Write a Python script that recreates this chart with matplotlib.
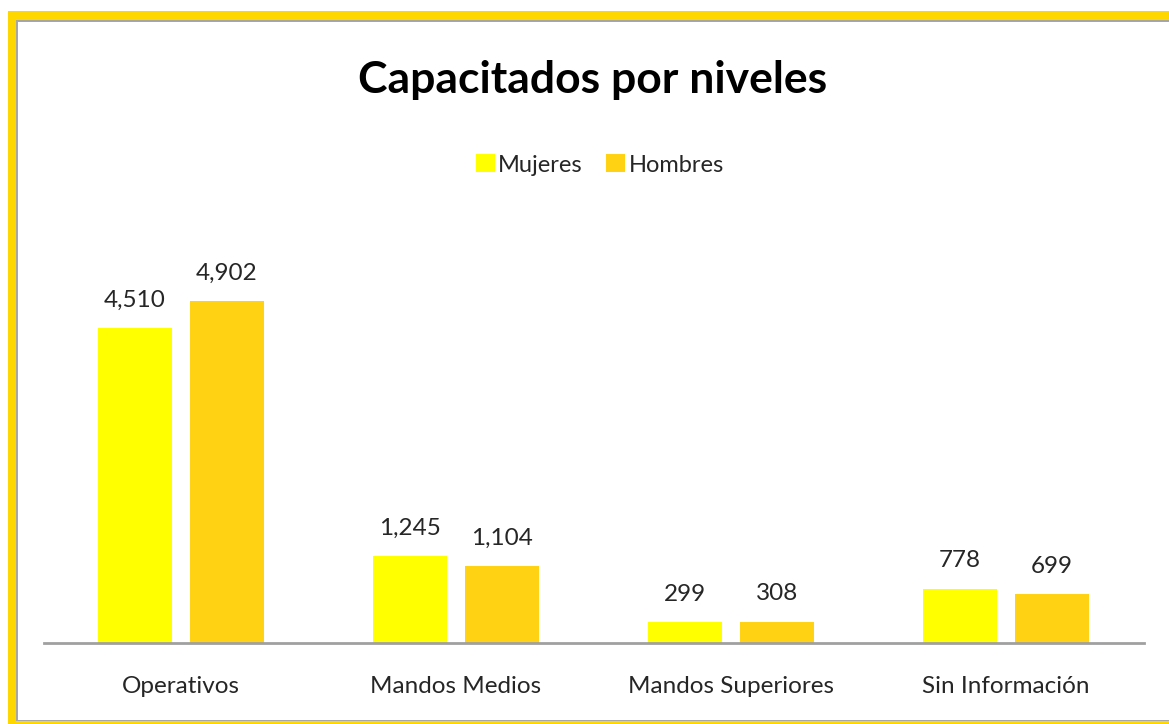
import matplotlib
matplotlib.use("Agg")
import matplotlib.pyplot as plt
from matplotlib.patches import Rectangle
import numpy as np

categories = ["Operativos", "Mandos Medios", "Mandos Superiores", "Sin Información"]
mujeres = [4510, 1245, 299, 778]
hombres = [4902, 1104, 308, 699]
series_names = ["Mujeres", "Hombres"]

W, H = 1169, 724
fig = plt.figure(figsize=(W / 100, H / 100), dpi=100)
plt.rcParams['font.family'] = ['Lato', 'DejaVu Sans']

def fx(px):
    return px / W

def fy(py):
    return 1 - py / H

# frame: yellow border with thin gray inner line
fig.patches.append(Rectangle((fx(8), fy(732)), fx(1190) - fx(8), fy(11) - fy(732),
                             transform=fig.transFigure, facecolor="#FFD700", edgecolor="none", zorder=-3))
fig.patches.append(Rectangle((fx(16), fy(721)), fx(1190) - fx(16), fy(20) - fy(721),
                             transform=fig.transFigure, facecolor="#A6A6A6", edgecolor="none", zorder=-2))
fig.patches.append(Rectangle((fx(17.5), fy(719.5)), fx(1190) - fx(17.5), fy(21.5) - fy(719.5),
                             transform=fig.transFigure, facecolor="white", edgecolor="none", zorder=-1))

left, right = 43.5, 1143.5
top, base = 200, 643
ax = fig.add_axes([fx(left), fy(base), fx(right) - fx(left), fy(top) - fy(base)])
ax.set_facecolor("none")
scale = (643 - 301) / 4902
ax.set_ylim(0, (base - top) / scale)
ax.set_xlim(-0.5, len(categories) - 0.5)

x = np.arange(len(categories))
bw = 0.268
off = 0.167
b1 = ax.bar(x - off, mujeres, bw, color="#FFFF00", label=series_names[0], zorder=2)
b2 = ax.bar(x + off, hombres, bw, color="#FFD313", label=series_names[1], zorder=2)

for bars, vals in ((b1, mujeres), (b2, hombres)):
    for rect, v in zip(bars, vals):
        ax.annotate(f"{v:,}", (rect.get_x() + rect.get_width() / 2, v),
                    xytext=(0, 12.5), textcoords="offset points", ha="center", va="bottom",
                    fontsize=17.5, color="#262626")

for s in ["top", "right", "left"]:
    ax.spines[s].set_visible(False)
ax.spines["bottom"].set_color("#A0A0A0")
ax.spines["bottom"].set_linewidth(2)
ax.set_yticks([])
ax.set_xticks(x)
ax.set_xticklabels(categories, fontsize=17.5, color="#262626")
ax.tick_params(axis="x", length=0, pad=24)

fig.text(fx(593), fy(80), "Capacitados por niveles", ha="center", va="center",
         fontsize=32, fontweight="bold", color="black")

fig.legend(handles=[b1, b2], labels=series_names, loc="center", bbox_to_anchor=(fx(600), fy(165)),
           ncol=2, frameon=False, fontsize=17, handlelength=0.8, handleheight=0.8,
           handletextpad=0.15, columnspacing=1.0, labelcolor="#262626")

fig.savefig("out.png", dpi=100)
